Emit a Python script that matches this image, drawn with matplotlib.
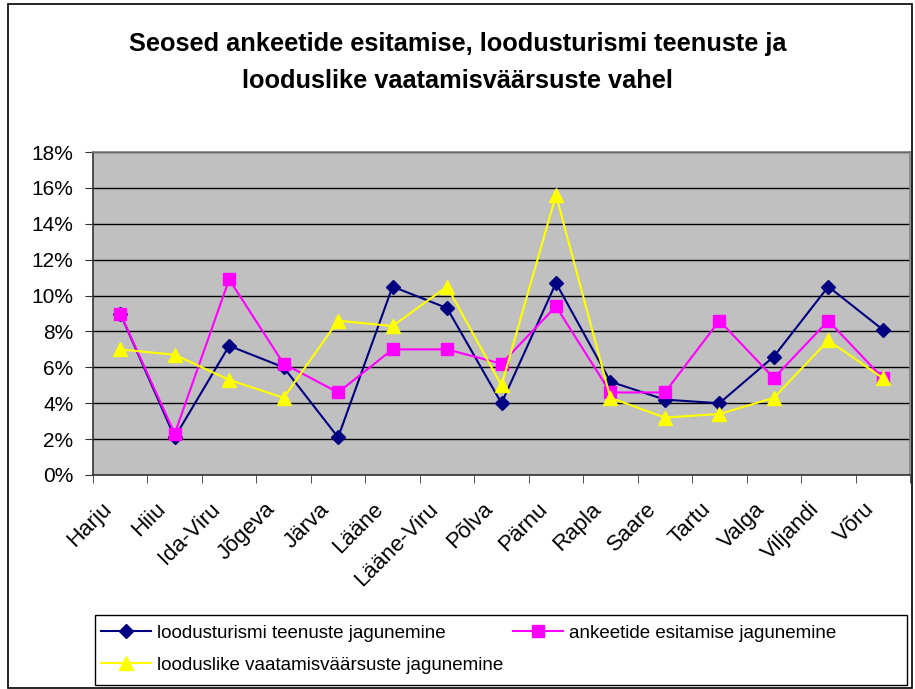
import numpy as np
import matplotlib
matplotlib.use("Agg")
import matplotlib.pyplot as plt
from matplotlib.patches import Rectangle
from matplotlib.ticker import PercentFormatter, FixedLocator
from matplotlib.transforms import ScaledTranslation

plt.rcParams['font.family'] = ['Liberation Sans', 'DejaVu Sans']

counties = ["Harju", "Hiiu", "Ida-Viru", "Jõgeva", "Järva", "Lääne", "Lääne-Viru",
            "Põlva", "Pärnu", "Rapla", "Saare", "Tartu", "Valga", "Viljandi", "Võru"]

# shares in percent
teenused = [9.0, 2.1, 7.2, 6.0, 2.1, 10.5, 9.3, 4.0, 10.7, 5.2, 4.2, 4.0, 6.6, 10.5, 8.1]
ankeedid = [9.0, 2.3, 10.9, 6.2, 4.6, 7.0, 7.0, 6.2, 9.4, 4.6, 4.6, 8.6, 5.4, 8.6, 5.4]
vaatamis = [7.0, 6.7, 5.3, 4.3, 8.6, 8.3, 10.5, 5.0, 15.6, 4.3, 3.2, 3.4, 4.3, 7.5, 5.4]

labels = ["loodusturismi teenuste jagunemine",
          "ankeetide esitamise jagunemine",
          "looduslike vaatamisväärsuste jagunemine"]

fig = plt.figure(figsize=(9.15, 6.89), dpi=100)
# outer chart border
fig.patches.append(Rectangle((8/915, 1/689), 904/915, 684/689, transform=fig.transFigure,
                             fill=False, edgecolor="black", linewidth=1.2))
# legend box
fig.patches.append(Rectangle((95/915, 1 - 685/689), 812/915, 70/689, transform=fig.transFigure,
                             fill=False, edgecolor="black", linewidth=1))

ax = fig.add_axes([93/915, 1 - 475/689, 817/915, 323/689])
ax.set_facecolor("#C0C0C0")

x = np.arange(len(counties))
h1, = ax.plot(x, teenused, color="#000080", marker="D", markersize=7.5, linewidth=1.5, label=labels[0])
h2, = ax.plot(x, ankeedid, color="#FF00FF", marker="s", markersize=8, linewidth=1.5, label=labels[1])
h3, = ax.plot(x, vaatamis, color="#FFFF00", marker="^", markersize=9.5, linewidth=1.5, label=labels[2])

ax.set_xlim(-0.5, len(counties) - 0.5)
ax.set_ylim(0, 18)
ax.set_yticks(np.arange(0, 19, 2))
ax.yaxis.set_major_formatter(PercentFormatter(decimals=0))
ax.grid(axis="y", color="black", linewidth=1)
ax.set_axisbelow(True)

# category labels, rotated like Excel does it
ax.set_xticks(x)
ax.set_xticklabels([])
lab_tr = ax.get_xaxis_transform() + ScaledTranslation(-12/100, -31/100, fig.dpi_scale_trans)
for xi, name in zip(x, counties):
    ax.text(xi, 0, name, transform=lab_tr, rotation=45, rotation_mode="anchor",
            ha="right", va="center", fontsize=16)

ax.xaxis.set_minor_locator(FixedLocator(np.arange(-0.5, len(counties), 1)))
ax.tick_params(axis="x", which="major", length=0)
ax.tick_params(axis="x", which="minor", length=6, direction="out", color="#333333")
ax.tick_params(axis="y", length=6, direction="out", labelsize=15, pad=8, color="#333333")

for s in ["top", "right"]:
    ax.spines[s].set_color("#808080")
    ax.spines[s].set_linewidth(1.2)
for s in ["left", "bottom"]:
    ax.spines[s].set_color("#333333")
    ax.spines[s].set_linewidth(1.2)

fig.text(0.5, 1 - 44/689, "Seosed ankeetide esitamise, loodusturismi teenuste ja",
         ha="center", va="center", fontsize=18.3, fontweight="bold")
fig.text(0.5, 1 - 81/689, "looduslike vaatamisväärsuste vahel",
         ha="center", va="center", fontsize=18.3, fontweight="bold")

leg = fig.legend([h1, h3, h2], [labels[0], labels[2], labels[1]], ncol=2,
                 loc="upper left", bbox_to_anchor=(97/915, 1 - 621/689),
                 frameon=False, fontsize=13.5, handlelength=2.7, handletextpad=0.3,
                 columnspacing=0.5, borderaxespad=0, borderpad=0.2, labelspacing=0.8)

fig.savefig("out.png", dpi=100)
